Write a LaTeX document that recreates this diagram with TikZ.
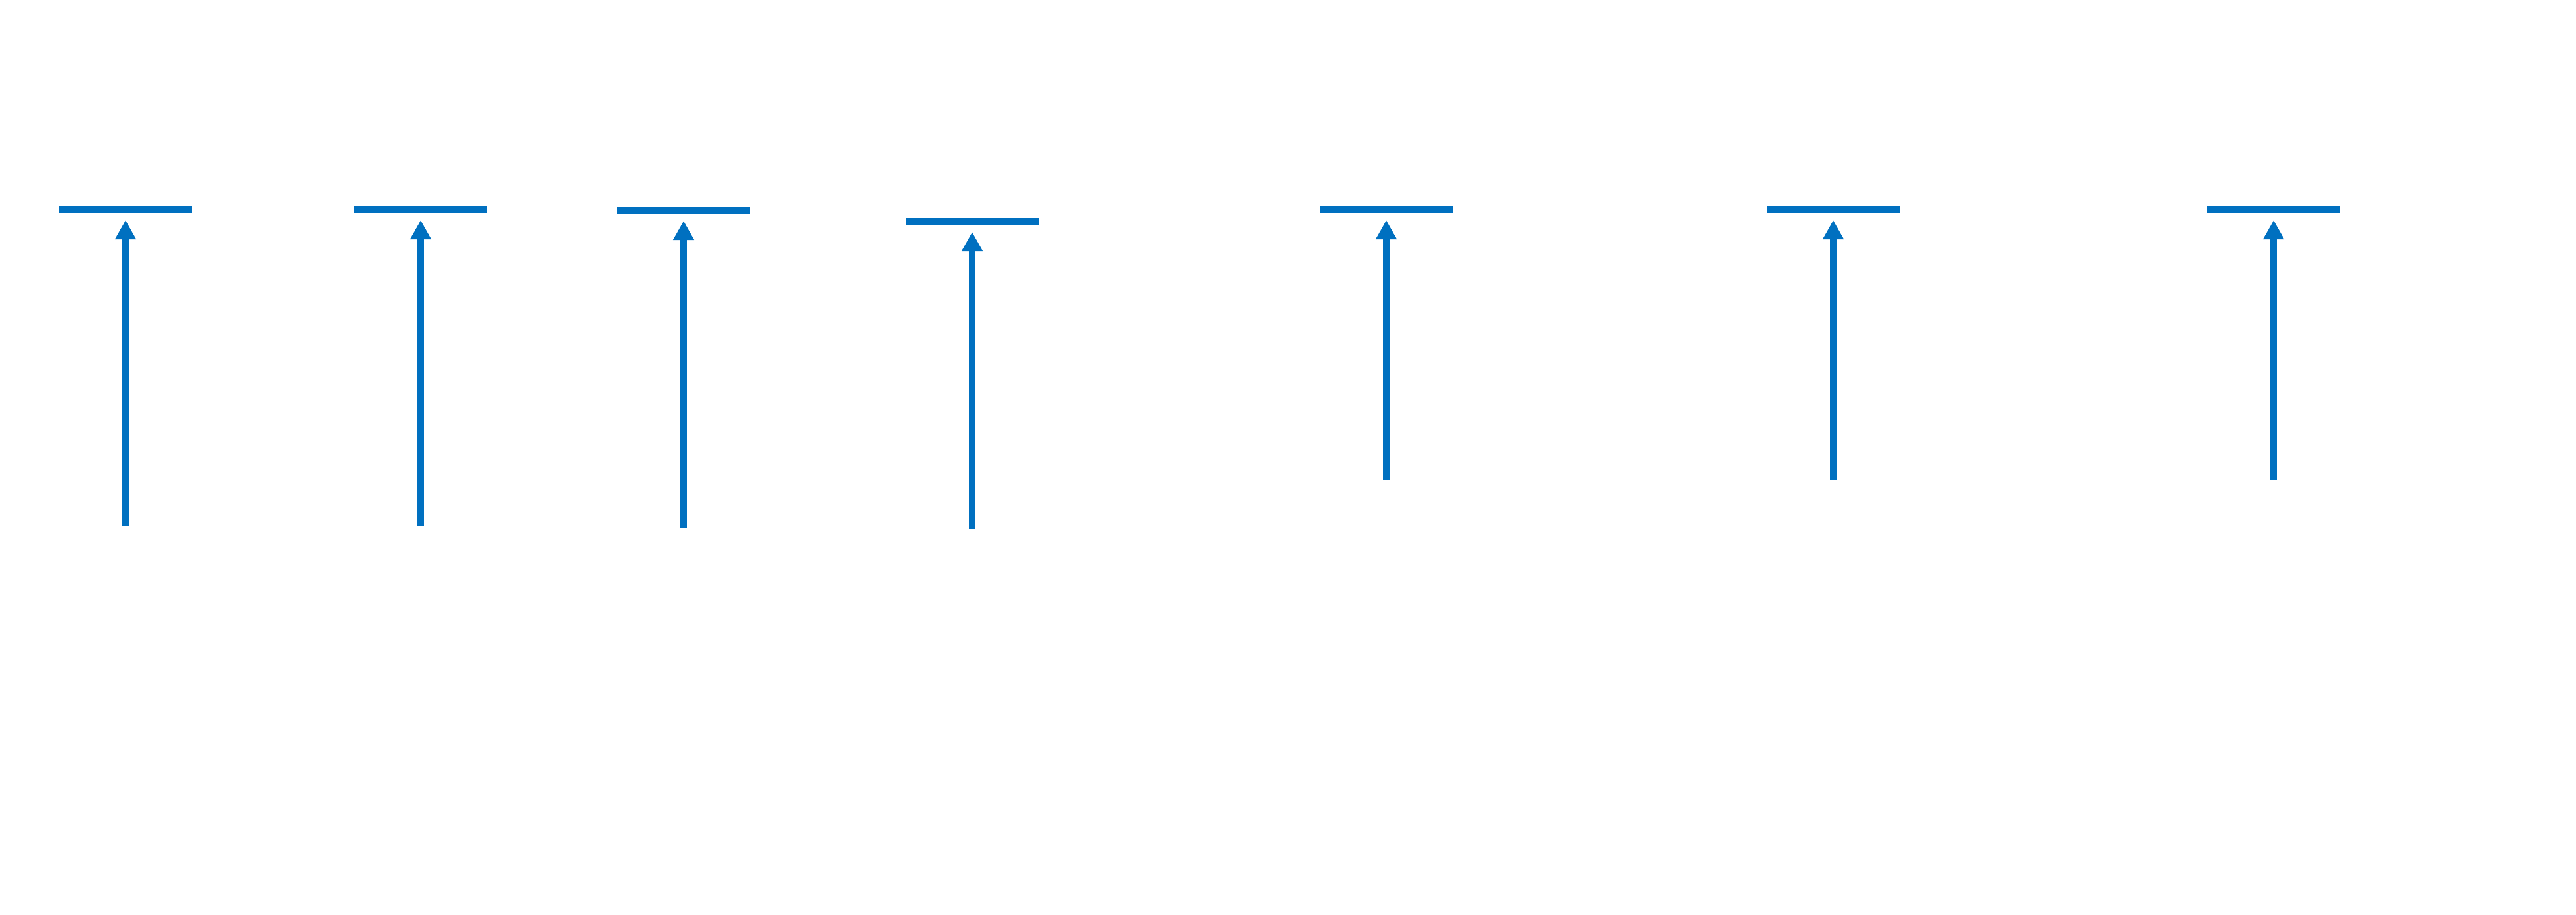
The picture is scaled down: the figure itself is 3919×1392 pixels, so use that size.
\documentclass[tikz,border=0pt]{standalone}
\usepackage{tikz}
\usetikzlibrary{arrows.meta}
\definecolor{liftblue}{HTML}{0070C0}

\begin{document}
\begin{tikzpicture}[x=0.01cm,y=-0.01cm,
  bar/.style={rectangle, fill=liftblue, minimum width=2.02cm, minimum height=0.1cm, inner sep=0pt, outer sep=0pt},
  lift/.style={draw=liftblue, line width=0.1cm, -{Triangle[length=0.29cm,width=0.3cm]}, shorten >=0.11cm}]
\useasboundingbox (0,0) rectangle (3919,1392);
\foreach \s/\x/\y/\b in {1/191/319/800, 2/640/319/800, 3/1040/320/803, 4/1479/337/805,
                         5/2109/319/730, 6/2789/319/730, 7/3459/319/730}
  {\node[bar] (bar\s) at (\x,\y) {};
   \coordinate (foot\s) at (\x,\b);
   \draw[lift] (foot\s) -- (bar\s);}
\end{tikzpicture}
\end{document}
